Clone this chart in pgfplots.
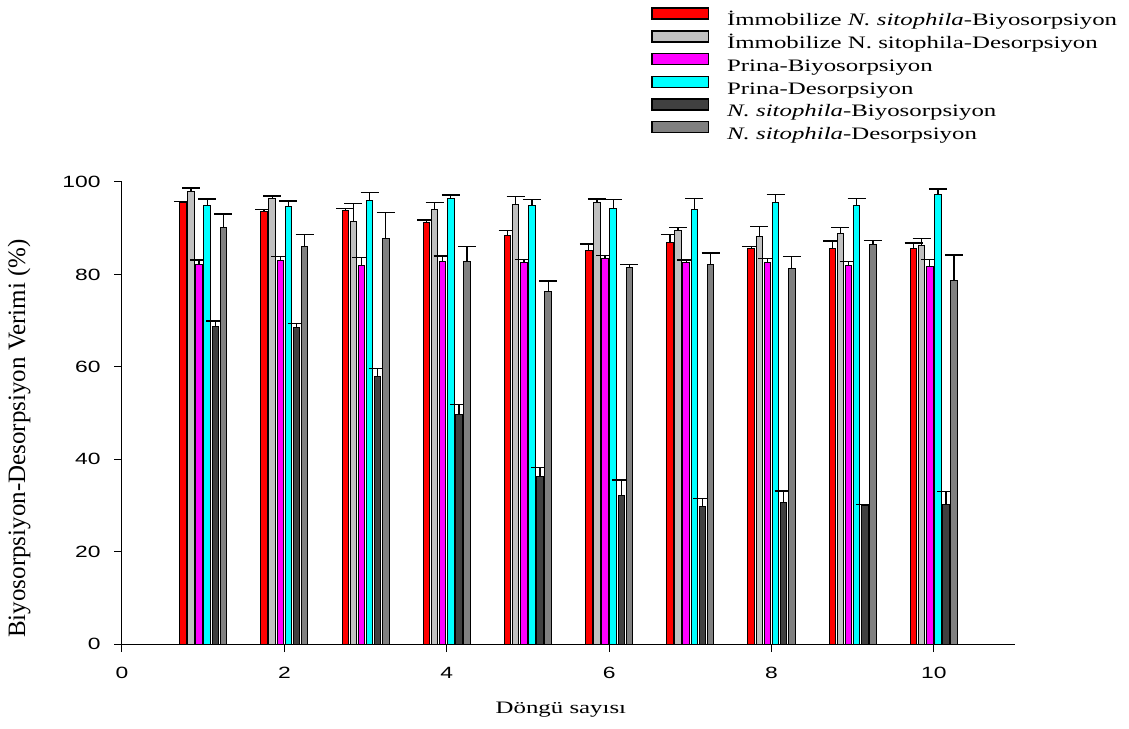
\documentclass[border=0pt]{standalone}
\usepackage{fontspec}
\usepackage{pgfplots}
\usepackage{pgfplotstable}
\pgfplotsset{compat=1.18}

\setmainfont{Liberation Serif}
\newfontfamily\serifwide{Liberation Serif}[FakeStretch=1.42]
\newfontfamily\sanswide{Liberation Sans}[FakeStretch=1.4]

\definecolor{immBio}{RGB}{255,0,0}
\definecolor{immDes}{RGB}{192,192,192}
\definecolor{prinaBio}{RGB}{255,0,255}
\definecolor{prinaDes}{RGB}{0,255,255}
\definecolor{nsBio}{RGB}{64,64,64}
\definecolor{nsDes}{RGB}{128,128,128}

% cycle, mean efficiency (%), standard deviation
\pgfplotstableread{
x y e
1 95.5 0.3
2 93.7 0.3
3 93.9 0.4
4 91.3 0.5
5 88.5 1.0
6 85.2 1.4
7 86.9 1.7
8 85.7 0.4
9 85.6 1.6
10 85.7 1.1
}\tabImmBio

\pgfplotstableread{
x y e
1 97.9 0.8
2 96.5 0.5
3 91.5 3.8
4 94.1 1.4
5 95.2 1.6
6 95.6 0.7
7 89.4 0.7
8 88.3 2.0
9 88.9 1.2
10 86.3 1.4
}\tabImmDes

\pgfplotstableread{
x y e
1 82.2 0.9
2 83.0 0.8
3 82.0 1.6
4 82.8 1.2
5 82.6 0.7
6 83.5 0.6
7 82.6 0.5
8 82.6 0.9
9 82.0 0.8
10 81.8 1.4
}\tabPrinaBio

\pgfplotstableread{
x y e
1 94.9 1.4
2 94.7 1.2
3 96.1 1.6
4 96.5 0.7
5 94.9 1.3
6 94.3 1.9
7 94.0 2.5
8 95.5 1.8
9 94.9 1.6
10 97.4 1.1
}\tabPrinaDes

\pgfplotstableread{
x y e
1 68.8 1.1
2 68.5 0.8
3 58.0 1.7
4 49.7 2.2
5 36.2 2.0
6 32.1 3.4
7 29.8 1.7
8 30.7 2.4
9 29.9 0.3
10 30.1 2.9
}\tabNsBio

\pgfplotstableread{
x y e
1 90.2 2.9
2 86.1 2.5
3 87.7 5.7
4 82.8 3.2
5 76.4 2.2
6 81.5 0.6
7 82.2 2.4
8 81.3 2.6
9 86.5 0.9
10 78.7 5.5
}\tabNsDes

% six bars per cycle, 0.1 apart, centred on the cycle number
\pgfplotsset{
  cyclebar/.style={ybar, bar width=6.5pt, bar shift=0pt, draw=black, line width=1pt},
}
% equal height for every legend row
\newcommand\legrow{\vphantom{İy}}

\begin{document}
\begin{tikzpicture}
\useasboundingbox (-122pt,-84pt) rectangle (1007pt,644pt);
\begin{axis}[
  at={(0pt,0pt)}, anchor=south west,
  scale only axis, width=893pt, height=462pt,
  xmin=0, xmax=11, ymin=0, ymax=100,
  axis x line*=bottom, axis y line*=left,
  axis line style={-, line width=1pt, black},
  xtick={0,2,...,10}, ytick={0,20,...,100},
  tick align=outside, major tick length=8pt,
  tick style={line width=1pt, black},
  /pgf/number format/assume math mode=true,
  tick label style={font=\sanswide\fontsize{16.3}{18}\selectfont},
  xticklabel style={yshift=-12pt},
  yticklabel style={xshift=-10pt},
  xlabel={Döngü sayısı},
  xlabel style={font=\serifwide\fontsize{17.5}{20}\selectfont,
    at={(axis description cs:0.4915,0)}, anchor=base, yshift=-69pt},
  ylabel={Biyosorpsiyon-Desorpsiyon Verimi (\%)},
  ylabel style={font=\fontsize{25}{28}\selectfont,
    at={(axis description cs:-0.1153,0.445)}, anchor=center},
  error bars/y dir=plus, error bars/y explicit,
  error bars/error bar style={line width=1.3pt, black},
  error bars/error mark options={line width=1.3pt, black, mark size=9pt, rotate=90},
  legend image code/.code={\draw[#1, line width=1.5pt] (0pt,0.5pt) rectangle (56.6pt,11.5pt);},
  legend cell align=left,
  legend style={draw=none, fill=none, inner sep=0pt, outer sep=0pt,
    at={(axis description cs:0.5924,1.3777)}, anchor=north west,
    font=\serifwide\fontsize{17.5}{20}\selectfont,
    nodes={inner sep=0pt, text height=16.5pt, text depth=4pt},
    row sep=0.2pt,
    /tikz/every odd column/.append style={column sep=18pt}},
]
\addplot[cyclebar, fill=immBio]
  table[x expr=\thisrow{x}-0.25, y=y, y error=e] {\tabImmBio};
\addlegendentry{\legrow İmmobilize \textit{N. sitophila}-Biyosorpsiyon}
\addplot[cyclebar, fill=immDes]
  table[x expr=\thisrow{x}-0.15, y=y, y error=e] {\tabImmDes};
\addlegendentry{\legrow İmmobilize N. sitophila-Desorpsiyon}
\addplot[cyclebar, fill=prinaBio]
  table[x expr=\thisrow{x}-0.05, y=y, y error=e] {\tabPrinaBio};
\addlegendentry{\legrow Prina-Biyosorpsiyon}
\addplot[cyclebar, fill=prinaDes]
  table[x expr=\thisrow{x}+0.05, y=y, y error=e] {\tabPrinaDes};
\addlegendentry{\legrow Prina-Desorpsiyon}
\addplot[cyclebar, fill=nsBio]
  table[x expr=\thisrow{x}+0.15, y=y, y error=e] {\tabNsBio};
\addlegendentry{\legrow\textit{N. sitophila}-Biyosorpsiyon}
\addplot[cyclebar, fill=nsDes]
  table[x expr=\thisrow{x}+0.25, y=y, y error=e] {\tabNsDes};
\addlegendentry{\legrow\textit{N. sitophila}-Desorpsiyon}
\end{axis}
\end{tikzpicture}
\end{document}
